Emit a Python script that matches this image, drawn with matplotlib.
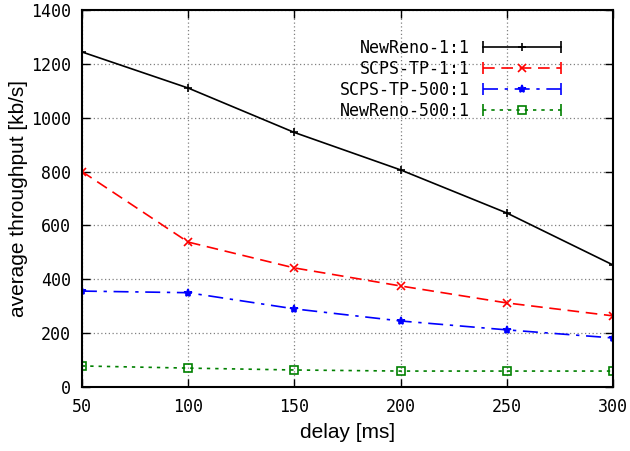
import matplotlib.pyplot as plt
from matplotlib.lines import Line2D
from matplotlib.legend_handler import HandlerLine2D, HandlerTuple

delay = [50, 100, 150, 200, 250, 300]
newreno_1 = [1244, 1110, 945, 806, 646, 453]
scps_1 = [800, 538, 442, 375, 312, 264]
scps_500 = [356, 350, 290, 245, 212, 182]
newreno_500 = [78, 70, 63, 59, 59, 59]

labels = ['NewReno-1:1', 'SCPS-TP-1:1', 'SCPS-TP-500:1', 'NewReno-500:1']
colors = ['black', 'red', 'blue', 'green']
markers = ['+', 'x', '*', 's']
styles = ['-', (0, (7, 4)), (0, (9, 4, 2, 4)), (0, (2, 3))]
series = [newreno_1, scps_1, scps_500, newreno_500]

mono = 'DejaVu Sans Mono'
fig = plt.figure(figsize=(6.3, 4.51), dpi=100)
ax = fig.add_axes([0.130, 0.142, 0.843, 0.836])

handles = []
handler_map = {}
for ys, lab, c, m, ls in zip(series, labels, colors, markers, styles):
    mfc = 'none' if m == 's' else c
    ax.plot(delay, ys, color=c, linestyle=ls, linewidth=1.2, marker=m,
            markersize=6, markerfacecolor=mfc, markeredgecolor=c, markeredgewidth=1.2)
    caps = Line2D([], [], color=c, linestyle=ls, linewidth=1.2, marker='|',
                  markersize=8, markeredgewidth=1.2)
    mid = Line2D([], [], color='none', marker=m, markersize=6,
                 markerfacecolor=mfc, markeredgecolor=c, markeredgewidth=1.2)
    handler_map[caps] = HandlerLine2D(numpoints=2)
    handler_map[mid] = HandlerLine2D(numpoints=1)
    handles.append((caps, mid))

ax.set_xlim(50, 300)
ax.set_ylim(0, 1400)
ax.set_xticks(delay)
ax.set_yticks(range(0, 1401, 200))
ax.grid(True, color='gray', linestyle=(0, (1, 2)), linewidth=0.9)
ax.tick_params(direction='in', top=True, right=True, length=6, width=1, labelsize=12, pad=8)
for lbl in ax.get_xticklabels() + ax.get_yticklabels():
    lbl.set_family(mono)
for sp in ax.spines.values():
    sp.set_linewidth(1.5)

ax.set_xlabel('delay [ms]', fontsize=15, family='Liberation Sans', labelpad=5)
ax.set_ylabel('average throughput [kb/s]', fontsize=15, family='Liberation Sans', labelpad=2)

hm = dict(handler_map)
hm[tuple] = HandlerTuple(ndivide=1, pad=0)
leg = ax.legend(handles, labels, handler_map=hm, markerfirst=False, loc='upper right',
                bbox_to_anchor=(0.94, 0.962), frameon=False, handlelength=5.3,
                handletextpad=0.45, labelspacing=0.17, prop={'family': mono, 'size': 12})

fig.savefig('out.png', dpi=100)
